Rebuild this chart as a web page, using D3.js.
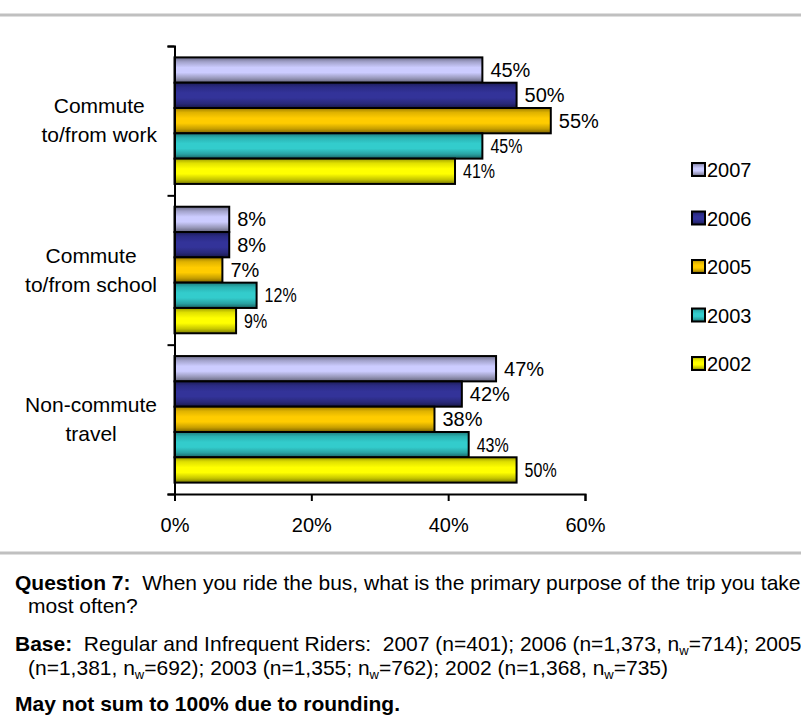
<!DOCTYPE html>
<html>
<head>
<meta charset="utf-8">
<script src="https://cdn.jsdelivr.net/npm/d3@7"></script>
<style>
  html, body { margin: 0; padding: 0; background: #ffffff; }
  svg { display: block; }
  text { font-family: "Liberation Sans", Arial, sans-serif; fill: #000; }
</style>
</head>
<body>
<svg id="chart" width="801" height="723"></svg>
<script>
// ---- data ----
const categories = ["Commute to/from work", "Commute to/from school", "Non-commute travel"];
const categoryLines = [["Commute", "to/from work"], ["Commute", "to/from school"], ["Non-commute", "travel"]];
const years = ["2007", "2006", "2005", "2003", "2002"];
const values2007 = [45, 8, 47];
const values2006 = [50, 8, 42];
const values2005 = [55, 7, 38];
const values2003 = [45, 12, 43];
const values2002 = [41, 9, 50];
const xTicks = [0, 20, 40, 60];
const narrowYears = ["2003", "2002"];

const seriesValues = { "2007": values2007, "2006": values2006, "2005": values2005, "2003": values2003, "2002": values2002 };

const gradients = {
  "2007": ["#6e6e8c", "#a3a3cc", "#ccccff", "#ccccff", "#9999bb", "#64647c"],
  "2006": ["#1d1d58", "#2b2b85", "#333399", "#333399", "#29297a", "#18184a"],
  "2005": ["#9e7e00", "#e0b300", "#ffcc00", "#ffcc00", "#c79f00", "#7a6100"],
  "2003": ["#1e7a7a", "#2bb3b3", "#33cccc", "#33cccc", "#29a3a3", "#186262"],
  "2002": ["#9e9e00", "#e0e000", "#ffff00", "#ffff00", "#c7c700", "#7a7a00"]
};
const gradOffsets = [0, 0.18, 0.4, 0.6, 0.82, 1];

const svg = d3.select("#chart");
const defs = svg.append("defs");
years.forEach(y => {
  const g = defs.append("linearGradient").attr("id", "g" + y)
    .attr("x1", 0).attr("y1", 0).attr("x2", 0).attr("y2", 1);
  gradients[y].forEach((c, i) => g.append("stop").attr("offset", gradOffsets[i]).attr("stop-color", c));
});

// separator lines
svg.append("line").attr("x1", 0).attr("x2", 801).attr("y1", 15).attr("y2", 15)
  .attr("stroke", "#c0c0c0").attr("stroke-width", 3);
svg.append("line").attr("x1", 0).attr("x2", 801).attr("y1", 553).attr("y2", 553)
  .attr("stroke", "#c0c0c0").attr("stroke-width", 3);

// scales
const x = d3.scaleLinear().domain([0, 60]).range([174.5, 585]);
const y0 = d3.scaleBand().domain(categories).range([46, 494]).paddingInner(0).paddingOuter(0);
const y1 = d3.scaleBand().domain(years).range([0, y0.bandwidth()]).paddingInner(0).paddingOuter(0.45);

// bars
const groups = svg.append("g").selectAll("g").data(categories).join("g")
  .attr("transform", d => `translate(0,${y0(d)})`);

groups.each(function(cat, ci) {
  const g = d3.select(this);
  years.forEach(yr => {
    const v = seriesValues[yr][ci];
    g.append("rect")
      .attr("x", x(0)).attr("y", y1(yr))
      .attr("width", x(v) - x(0)).attr("height", y1.bandwidth())
      .attr("fill", `url(#g${yr})`).attr("stroke", "#000").attr("stroke-width", 2);
    const narrow = narrowYears.includes(yr);
    const tx = x(v) + 8, ty = y1(yr) + y1.bandwidth() / 2 + 7;
    g.append("text")
      .attr("transform", `translate(${tx},${ty})` + (narrow ? " scale(0.8,1)" : ""))
      .attr("font-size", 20)
      .text(v + "%");
  });
});

// axes
const xAxis = d3.axisBottom(x).tickValues(xTicks).tickSize(7).tickFormat(d => d + "%");
const gx = svg.append("g").attr("transform", "translate(0,494)").call(xAxis);
gx.select(".domain").attr("stroke", "#000").attr("stroke-width", 2);
gx.selectAll(".tick line").attr("stroke", "#000").attr("stroke-width", 2);
gx.selectAll(".tick text").attr("font-size", 20).attr("font-family", "Liberation Sans, Arial, sans-serif")
  .attr("fill", "#000").attr("y", 24).attr("dy", "0.72em");

// y axis with ticks at band boundaries
const yBoundary = d3.scaleLinear().domain([0, categories.length]).range([46, 494]);
const yAxis = d3.axisLeft(yBoundary).tickValues(d3.range(categories.length + 1)).tickSize(7).tickFormat("");
const gy = svg.append("g").attr("transform", `translate(${x(0)},0)`).call(yAxis);
gy.select(".domain").attr("stroke", "#000").attr("stroke-width", 2);
gy.selectAll(".tick line").attr("stroke", "#000").attr("stroke-width", 2);

// category labels: block right-aligned at 157, lines centred inside block
categories.forEach((c, i) => {
  const cy = y0(c) + y0.bandwidth() / 2;
  const t = svg.append("text").attr("text-anchor", "middle").attr("font-size", 21);
  const spans = categoryLines[i].map((ln, j) =>
    t.append("tspan").attr("y", cy - 7.5 + j * 29).text(ln));
  const maxW = d3.max(spans, s => s.node().getComputedTextLength());
  spans.forEach(s => s.attr("x", 157 - maxW / 2));
});

// legend
const legend = svg.append("g");
years.forEach((yr, i) => {
  const cy = 169.5 + i * 48.5;
  legend.append("rect").attr("x", 692).attr("y", cy - 6.5).attr("width", 13).attr("height", 13)
    .attr("fill", `url(#g${yr})`).attr("stroke", "#000").attr("stroke-width", 2);
  legend.append("text").attr("x", 707).attr("y", cy + 7.5).attr("font-size", 20).text(yr);
});

// footer
const fx = 15, fi = 28;
const foot = svg.append("g").attr("font-size", 21);
const l1 = foot.append("text").attr("x", fx).attr("y", 590);
l1.append("tspan").attr("font-weight", "bold").text("Question 7:");
l1.append("tspan").text("\u00a0 When you ride the bus, what is the primary purpose of the trip you take");
foot.append("text").attr("x", fi).attr("y", 613).text("most often?");
const l3 = foot.append("text").attr("x", fx).attr("y", 651);
l3.append("tspan").attr("font-weight", "bold").text("Base:");
l3.append("tspan").text("\u00a0 Regular and Infrequent Riders:\u00a0 2007 (n=401); 2006 (n=1,373, n");
l3.append("tspan").attr("font-size", 13).attr("dy", 4).text("w");
l3.append("tspan").attr("dy", -4).text("=714); 2005");
const l4 = foot.append("text").attr("x", fi).attr("y", 675);
l4.append("tspan").text("(n=1,381, n");
l4.append("tspan").attr("font-size", 13).attr("dy", 4).text("w");
l4.append("tspan").attr("dy", -4).text("=692); 2003 (n=1,355; n");
l4.append("tspan").attr("font-size", 13).attr("dy", 4).text("w");
l4.append("tspan").attr("dy", -4).text("=762); 2002 (n=1,368, n");
l4.append("tspan").attr("font-size", 13).attr("dy", 4).text("w");
l4.append("tspan").attr("dy", -4).text("=735)");
foot.append("text").attr("x", fx).attr("y", 711).attr("font-weight", "bold").text("May not sum to 100% due to rounding.");
</script>
</body>
</html>
